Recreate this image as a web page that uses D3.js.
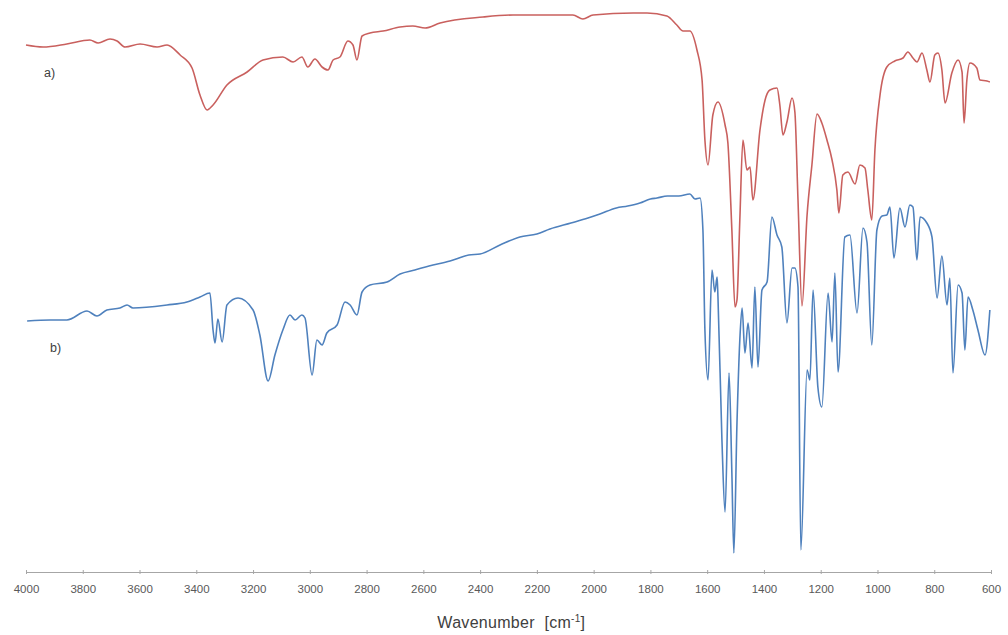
<!DOCTYPE html>
<html>
<head>
<meta charset="utf-8">
<script src="https://cdn.jsdelivr.net/npm/d3@7"></script>
<style>
  body { margin: 0; background: #fff; }
  svg { display: block; }
  .tick text { font-family: "Liberation Sans", Arial, sans-serif; font-size: 11.5px; fill: #595959; }
</style>
</head>
<body>
<script>
const width = 1008;
const height = 635;

// x ticks (wavenumber, cm-1)
const tickValues = [4000, 3800, 3600, 3400, 3200, 3000, 2800, 2600, 2400, 2200, 2000, 1800, 1600, 1400, 1200, 1000, 800, 600];
const seriesLabels = ["a)", "b)"];

// spectrum a) : [wavenumber, intensity (a.u.)]
const spectrumA = [
  [4000,104],[3940,103.6],[3856,104.2],[3775,105],[3746,104.4],[3704,105.2],[3679,104.8],[3651,103.6],
  [3598,104.2],[3538,103.6],[3503,104],[3457,102],[3415,99.4],[3387,94],[3362,91],[3341,92],
  [3292,96],[3221,98.6],[3165,101],[3095,101.6],[3059,100.6],[3028,101.6],[3007,99.6],[2982,101.2],
  [2957,99.6],[2936,99],[2918,101],[2894,101.6],[2866,104.8],[2848,104],[2834,101],[2816,105.8],
  [2788,106.4],[2742,106.8],[2682,107.6],[2637,107.8],[2594,107.4],[2541,108.4],[2390,109.6],[2284,110],
  [2073,110],[2038,109.2],[2002,110],[1861,110.4],[1812,110.4],[1742,109.8],[1707,108],[1685,106.8],
  [1661,106.8],[1636,103],[1618,97],[1608,85],[1597,80],[1580,90],[1562,92.6],[1537,88],
  [1527,84.4],[1513,67],[1502,51.6],[1495,53],[1485,69],[1474,85],[1460,79],[1449,79.6],
  [1439,73],[1414,87],[1396,93],[1379,95],[1354,95.4],[1344,92],[1333,86],[1319,88.6],
  [1301,93.4],[1291,90.6],[1280,73],[1266,51.8],[1248,70],[1231,80],[1213,90.2],[1196,88.4],
  [1178,85],[1160,81],[1143,75],[1136,70.4],[1122,78],[1104,78.6],[1079,76.2],[1062,80],
  [1044,79.4],[1034,75],[1020,69],[1009,83],[991,94],[967,99.6],[939,100.8],[910,101.4],
  [893,102.6],[875,101.4],[861,100.6],[843,102.4],[826,99],[815,96.6],[798,102],[787,102.4],
  [773,99],[762,92.4],[738,98.4],[716,101],[702,98.6],[695,88.4],[685,97],[674,100.4],
  [650,99.4],[639,97],[614,96.8],[604,96.6]
];

// spectrum b)
const spectrumB = [
  [3996,48.8],[3915,49],[3856,49],[3785,50.8],[3750,49.8],[3715,51],[3669,51.4],[3644,52],
  [3623,51.4],[3503,52],[3433,52.6],[3387,53.6],[3352,54.4],[3341,47],[3334,44.4],[3324,49.2],
  [3309,44.6],[3292,52],[3253,53.4],[3200,51],[3176,46],[3147,36.8],[3123,42],[3095,47],
  [3070,50],[3052,49],[3028,50],[3017,49.4],[2992,38],[2975,45],[2957,44],[2940,46.4],
  [2904,48],[2876,52.6],[2858,52],[2834,50],[2816,54.6],[2788,56],[2728,56.6],[2682,58.2],
  [2630,59],[2580,59.8],[2506,60.8],[2440,62],[2400,62.2],[2330,64],[2260,65.6],[2200,66.2],
  [2154,67.2],[2080,68.4],[2020,69.4],[1978,70.2],[1920,71.4],[1880,71.8],[1837,72.4],[1800,73.2],
  [1777,73.4],[1740,73.8],[1700,73.8],[1661,74.2],
  [1643,73.2],[1625,73.4],[1615,67],[1608,47],[1597,37],[1583,59],[1573,54.6],[1565,57.6],
  [1562,53.6],[1548,25],[1537,10.6],[1523,38.4],[1513,18.4],[1506,2.4],[1495,28.4],[1485,45],
  [1477,51.4],[1467,42.4],[1456,48.4],[1442,39.4],[1432,55.6],[1421,39.6],[1407,55],[1389,56.6],
  [1372,69.6],[1354,66],[1337,63.6],[1319,48.4],[1301,59.4],[1291,59.4],[1280,55.6],[1270,3],
  [1248,39],[1238,37],[1227,55],[1210,35.6],[1196,31.6],[1174,54.4],[1160,44.6],[1150,58.4],
  [1139,38.6],[1115,65.6],[1097,66],[1072,50.4],[1051,67.4],[1037,64.6],[1020,44],[1002,67],
  [984,69.8],[967,70],[956,71.6],[942,61.4],[921,71.4],[903,67.6],[886,72],[875,71.6],
  [861,61],[850,69.6],[826,68.4],[808,65.6],[790,53.4],[773,61.8],[755,52],[745,57.4],
  [734,38.4],[716,56],[702,54.4],[692,43],[681,53.6],[664,51],[646,47],[621,42],[604,51]
];

const margin = {left: 26, right: 17, top: 5, bottom: 63};
const x = d3.scaleLinear().domain([4000, 600]).range([margin.left, width - margin.right]);
const y = d3.scaleLinear().domain([0, 112]).range([565, 5]);

const svg = d3.select("body").append("svg").attr("width", width).attr("height", height);

const line = d3.line().x(d => x(d[0])).y(d => y(d[1])).curve(d3.curveMonotoneX);

svg.append("path").datum(spectrumA)
  .attr("d", line).attr("fill", "none")
  .attr("stroke", "#C9605E").attr("stroke-width", 1.6).attr("stroke-linejoin", "round");

svg.append("path").datum(spectrumB)
  .attr("d", line).attr("fill", "none")
  .attr("stroke", "#4F81BD").attr("stroke-width", 1.6).attr("stroke-linejoin", "round");

// series labels
svg.append("text").attr("x", 44).attr("y", 77).text(seriesLabels[0])
  .attr("font-family", "Liberation Sans, Arial, sans-serif").attr("font-size", 12.5).attr("fill", "#404040");
svg.append("text").attr("x", 50).attr("y", 352).text(seriesLabels[1])
  .attr("font-family", "Liberation Sans, Arial, sans-serif").attr("font-size", 12.5).attr("fill", "#404040");

// x axis
const axisY = 572;
const xAxis = d3.axisBottom(x).tickValues(tickValues).tickFormat(d3.format("d"))
  .tickSizeInner(3).tickSizeOuter(0).tickPadding(10);
const gx = svg.append("g").attr("transform", `translate(0,${axisY})`).call(xAxis);
gx.select(".domain").attr("stroke", "#a6a6a6");
gx.selectAll(".tick line").attr("stroke", "#a6a6a6").attr("y1", -2).attr("y2", 2);

// axis title
const title = svg.append("text")
  .attr("x", x(2290)).attr("y", 628)
  .attr("text-anchor", "middle")
  .attr("font-family", "Liberation Sans, Arial, sans-serif")
  .attr("font-size", 16).attr("fill", "#404040")
  .attr("letter-spacing", 0.3)
  .style("white-space", "pre");
title.append("tspan").text("Wavenumber  [cm");
title.append("tspan").attr("dy", -6).attr("font-size", 10).text("-1");
title.append("tspan").attr("dy", 6).text("]");
</script>
</body>
</html>
